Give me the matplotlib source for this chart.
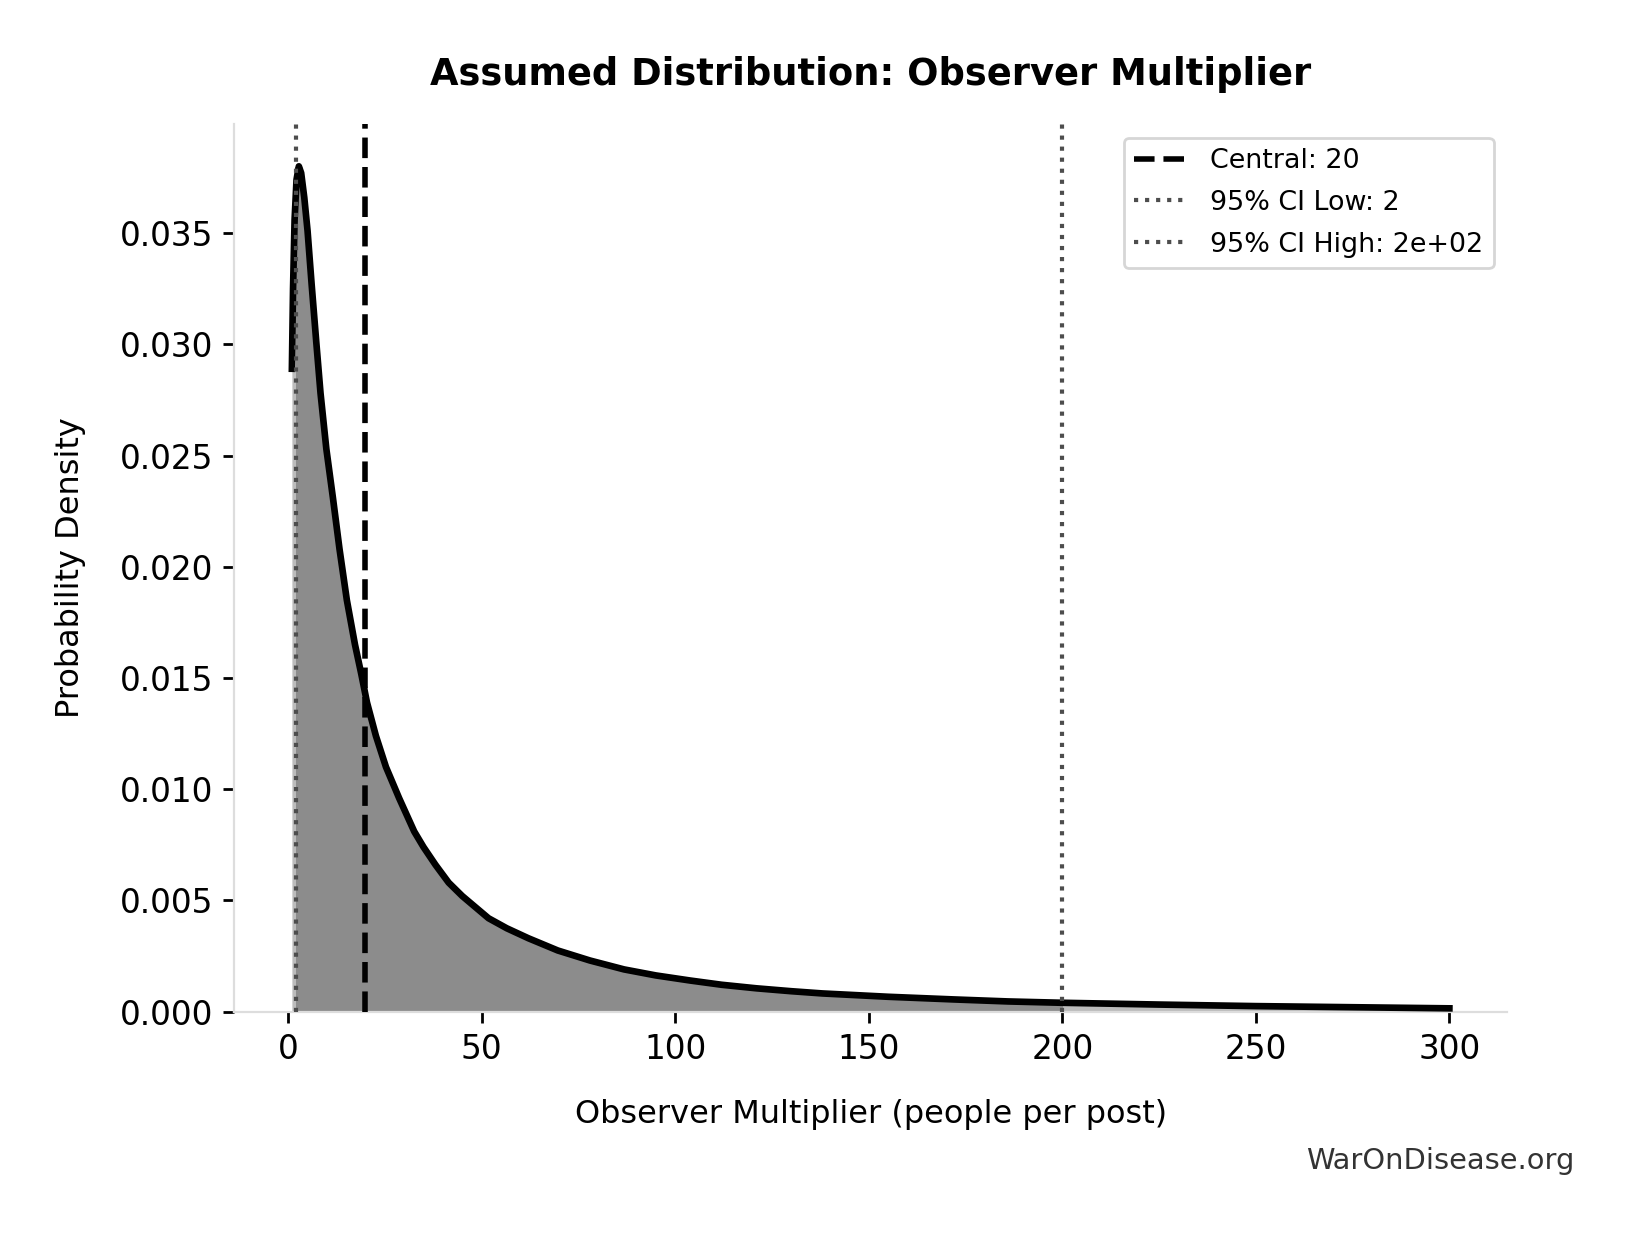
import matplotlib
matplotlib.use("Agg")
import matplotlib.pyplot as plt
from matplotlib.patches import Rectangle

# density curve
x_vals = [1.0, 1.3, 1.7, 2.2, 2.8, 3.4, 4.2, 5.05, 6.1, 7.3, 8.4, 9.9, 11.6,
          13.3, 15.2, 17.3, 18.9, 20.4, 22.7, 25.3, 28.7, 32.6, 35.0, 38.1,
          41.5, 45.0, 51.8, 56.5, 62.1, 69.7, 78.0, 86.8, 95.0, 103.9, 112.0,
          121.0, 130.0, 138.0, 155.0, 172.0, 186.0, 200.0, 225.0, 250.0,
          275.0, 300.0]
density = [0.0289, 0.0325, 0.0356, 0.0374, 0.0380, 0.0377, 0.0366, 0.0351,
           0.0327, 0.0301, 0.0278, 0.0253, 0.0231, 0.0208, 0.0185, 0.0165,
           0.0152, 0.0139, 0.0124, 0.0110, 0.0096, 0.0081, 0.0074, 0.0066,
           0.0058, 0.0052, 0.0042, 0.00375, 0.0033, 0.00275, 0.0023, 0.0019,
           0.00163, 0.0014, 0.00121, 0.00105, 0.00092, 0.00082, 0.00067,
           0.00055, 0.00046, 0.00040, 0.00032, 0.00025, 0.00020, 0.00015]

central = 20
ci_low = 2
ci_high = 200

plt.rcParams['font.family'] = ['DejaVu Sans']

fig = plt.figure(figsize=(8.165, 6.165), dpi=200)
ax = fig.add_axes([0.1433, 0.1795, 0.7797, 0.7199])

# light fill for whole curve, darker fill inside the 95% CI
ax.fill_between(x_vals, density, color='#bcbcbc', linewidth=0)
dark = ax.fill_between(x_vals, density, color='#8c8c8c', linewidth=0)
dark.set_clip_path(Rectangle((ci_low, 0), ci_high - ci_low, 1, transform=ax.transData))

ax.plot(x_vals, density, color='black', linewidth=2.4, zorder=4, solid_joinstyle='round')

ax.axvline(central, color='black', linestyle='--', linewidth=2, label=f'Central: {central}', zorder=5)
ax.axvline(ci_low, color='#4d4d4d', linestyle=':', linewidth=1.5, label=f'95% CI Low: {ci_low}', zorder=5)
ax.axvline(ci_high, color='#4d4d4d', linestyle=':', linewidth=1.5, label=f'95% CI High: {ci_high:.0e}', zorder=5)

ax.set_ylim(bottom=0)

ax.set_title('Assumed Distribution: Observer Multiplier', fontsize=13.3, fontweight='bold', pad=14)
ax.set_xlabel('Observer Multiplier (people per post)', fontsize=11.5, labelpad=12)
ax.set_ylabel('Probability Density', fontsize=11.5, labelpad=12)
ax.tick_params(labelsize=11.8, length=4, width=1)

for side in ['top', 'right']:
    ax.spines[side].set_visible(False)
for side in ['left', 'bottom']:
    ax.spines[side].set_color('#dddddd')

leg = ax.legend(loc='upper right', fontsize=9.7, frameon=True, fancybox=True, labelspacing=0.58)
leg.get_frame().set_edgecolor('#cccccc')

fig.text(0.964, 0.058, 'WarOnDisease.org', ha='right', va='center', fontsize=10.4, color='#333333')

fig.savefig('out.png', dpi=200)
